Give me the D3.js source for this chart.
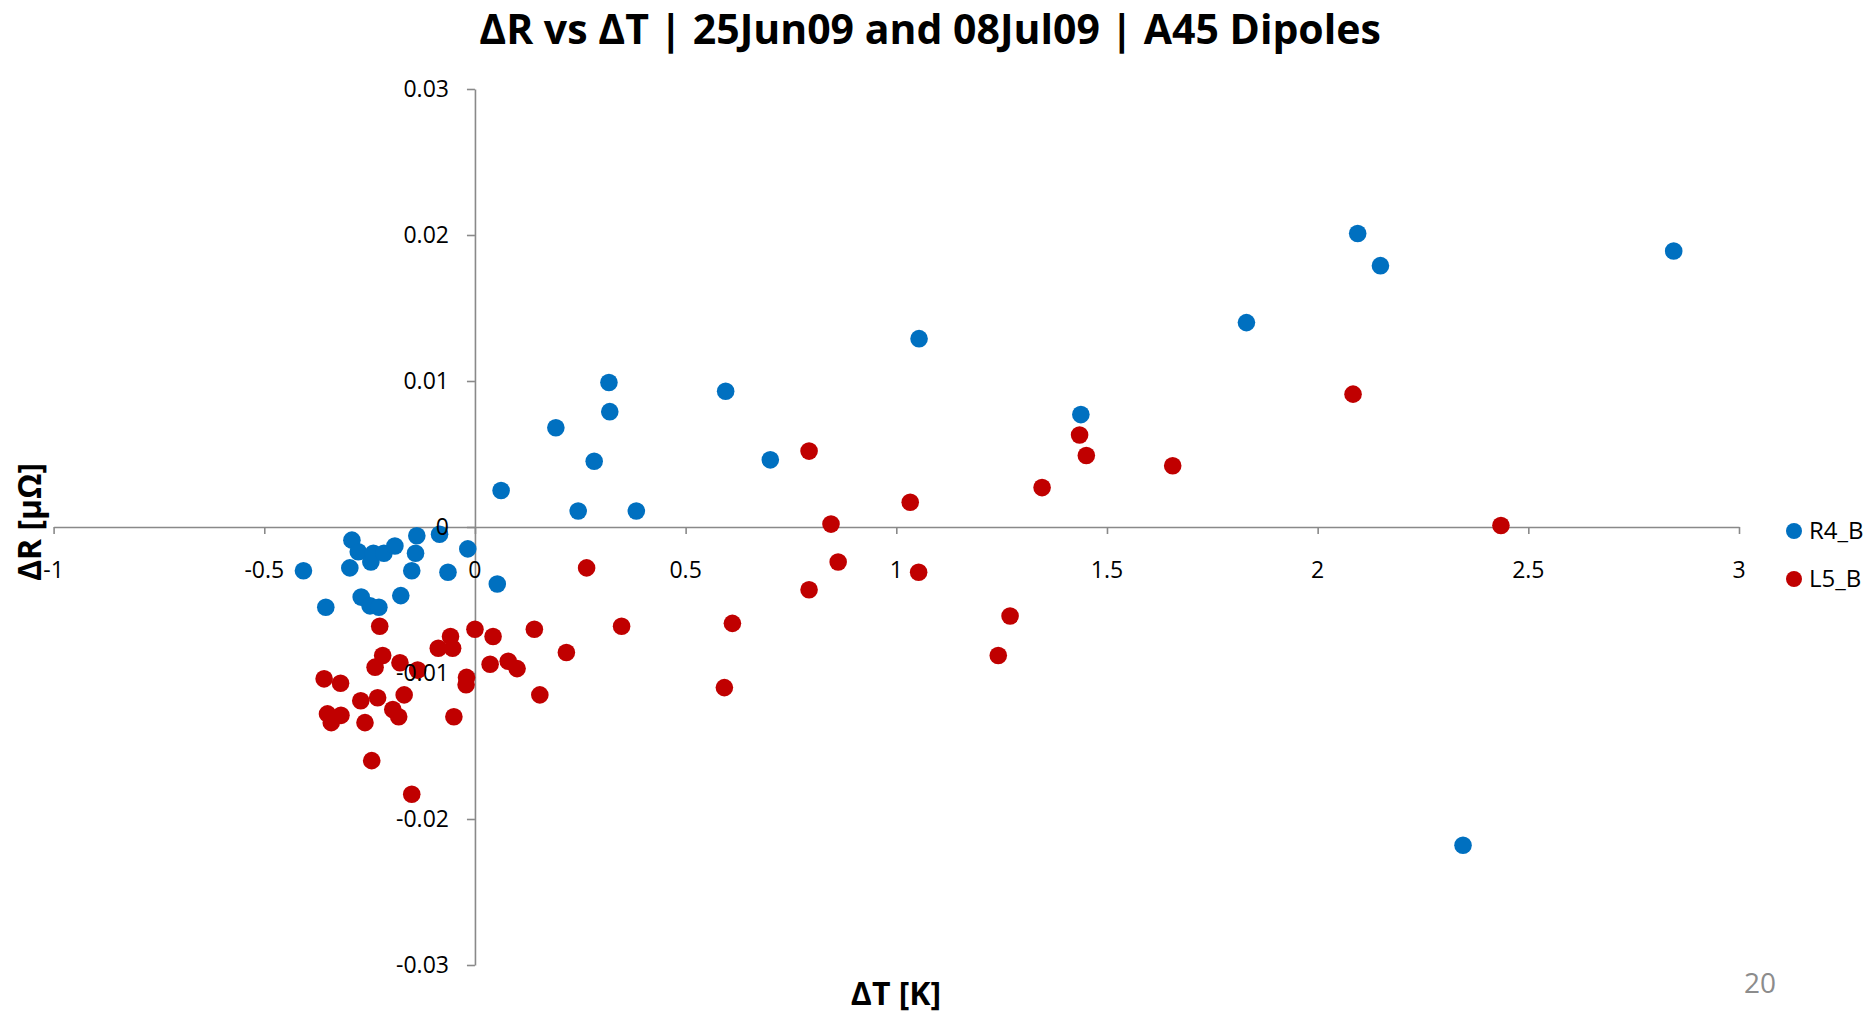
<!DOCTYPE html>
<html lang="en">

<head>
    <meta charset="UTF-8">
    <title>dR vs dT</title>
    <style>
        body { margin: 0; background: #fff; }
        svg { display: block; font-family: "Open Sans", sans-serif; }
    </style>
</head>

<body>
    <svg></svg>
    <script src="https://d3js.org/d3.v7.min.js"></script>

    <script>
        // R4_B series
        var r4x = [-0.407, -0.354, -0.297, -0.292, -0.277, -0.270, -0.249, -0.247, -0.241, -0.228,
            -0.216, -0.190, -0.176, -0.150, -0.141, -0.138, -0.084, -0.064, -0.017, 0.053,
            0.062, 0.192, 0.245, 0.283, 0.318, 0.320, 0.383, 0.595, 0.701, 1.054,
            1.438, 1.831, 2.095, 2.149, 2.345, 2.845];
        var r4y = [-0.0030, -0.0055, -0.0028, -0.0009, -0.0017, -0.0048, -0.0054, -0.0024, -0.0018, -0.0055,
            -0.0018, -0.0013, -0.0047, -0.0030, -0.0018, -0.0006, -0.0005, -0.0031, -0.0015, -0.0039,
            0.0025, 0.0068, 0.0011, 0.0045, 0.0099, 0.0079, 0.0011, 0.0093, 0.0046, 0.0129,
            0.0077, 0.0140, 0.0201, 0.0179, -0.0218, 0.0189];

        // L5_B series
        var l5x = [-0.358, -0.350, -0.341, -0.319, -0.318, -0.271, -0.261, -0.245, -0.237, -0.231,
            -0.226, -0.219, -0.195, -0.181, -0.178, -0.168, -0.150, -0.136, -0.087, -0.058,
            -0.053, -0.050, -0.021, -0.020, 0.000, 0.036, 0.043, 0.079, 0.100, 0.141,
            0.154, 0.217, 0.265, 0.348, 0.592, 0.611, 0.793, 0.793, 0.845, 0.862,
            1.033, 1.053, 1.242, 1.270, 1.346, 1.435, 1.451, 1.656, 2.084, 2.435];
        var l5y = [-0.0104, -0.0128, -0.0134, -0.0107, -0.0129, -0.0119, -0.0134, -0.0160, -0.0096, -0.0117,
            -0.0068, -0.0088, -0.0125, -0.0130, -0.0093, -0.0115, -0.0183, -0.0098, -0.0083, -0.0075,
            -0.0083, -0.0130, -0.0108, -0.0103, -0.0070, -0.0094, -0.0075, -0.0092, -0.0097, -0.0070,
            -0.0115, -0.0086, -0.0028, -0.0068, -0.0110, -0.0066, 0.0052, -0.0043, 0.0002, -0.0024,
            0.0017, -0.0031, -0.0088, -0.0061, 0.0027, 0.0063, 0.0049, 0.0042, 0.0091, 0.0001];

        var xTicks = [-1, -0.5, 0, 0.5, 1, 1.5, 2, 2.5, 3];
        var yTicks = [-0.03, -0.02, -0.01, 0, 0.01, 0.02, 0.03];
        var seriesNames = ['R4_B', 'L5_B'];
        var colors = ['#0070C0', '#C00000'];

        var svgWidth = 1866,
            svgHeight = 1013;
        var svg = d3.select('svg')
            .attr('width', svgWidth)
            .attr('height', svgHeight);

        var x = d3.scaleLinear().domain([-1, 3]).range([53.6, 1739]);
        var y = d3.scaleLinear().domain([-0.03, 0.03]).range([965, 89]);

        var series = [
            { name: seriesNames[0], color: colors[0], pts: r4x.map((d, i) => [d, r4y[i]]) },
            { name: seriesNames[1], color: colors[1], pts: l5x.map((d, i) => [d, l5y[i]]) }
        ];

        // axis lines + ticks first, markers, then tick labels on top
        var xAxis = svg.append('g')
            .attr('transform', 'translate(0,' + y(0) + ')')
            .call(d3.axisBottom(x).tickValues(xTicks).tickSize(7).tickSizeOuter(0).tickFormat(d => String(d)));
        var yAxis = svg.append('g')
            .attr('transform', 'translate(' + x(0) + ',0)')
            .call(d3.axisLeft(y).tickValues(yTicks).tickSize(8).tickSizeOuter(0).tickFormat(d => String(d)));

        [xAxis, yAxis].forEach(g => {
            g.select('.domain').attr('stroke', '#898989').attr('stroke-width', 1.6);
            g.selectAll('.tick line').attr('stroke', '#898989').attr('stroke-width', 1.6);
            g.selectAll('.tick text').remove();
        });

        series.forEach(s => {
            svg.append('g').selectAll('circle')
                .data(s.pts)
                .enter()
                .append('circle')
                .attr('cx', d => x(d[0]))
                .attr('cy', d => y(d[1]))
                .attr('r', 8.8)
                .attr('fill', s.color);
        });

        var labels = svg.append('g').attr('font-size', 23).attr('fill', '#000');
        labels.selectAll('.xl').data(xTicks).enter().append('text')
            .attr('x', d => x(d))
            .attr('y', y(0) + 43)
            .attr('dy', '0.35em')
            .attr('text-anchor', 'middle')
            .text(d => String(d));
        labels.selectAll('.yl').data(yTicks).enter().append('text')
            .attr('x', x(0) - 26)
            .attr('y', d => y(d))
            .attr('dy', '0.35em')
            .attr('text-anchor', 'end')
            .text(d => String(d));

        // titles
        svg.append('text')
            .attr('x', 930).attr('y', 44)
            .attr('text-anchor', 'middle')
            .attr('font-size', 41).attr('font-weight', 'bold')
            .text('ΔR vs ΔT | 25Jun09 and 08Jul09 | A45 Dipoles');
        svg.append('text')
            .attr('x', 896).attr('y', 994)
            .attr('dy', '0.35em')
            .attr('text-anchor', 'middle')
            .attr('font-size', 32).attr('font-weight', 'bold')
            .text('ΔT [K]');
        svg.append('text')
            .attr('transform', 'translate(30,522) rotate(-90)')
            .attr('dy', '0.35em')
            .attr('text-anchor', 'middle')
            .attr('font-size', 32).attr('font-weight', 'bold')
            .text('ΔR [μΩ]');

        // legend
        var legend = svg.append('g').selectAll('g')
            .data(series)
            .enter()
            .append('g')
            .attr('transform', (d, i) => 'translate(1794,' + (531 + i * 48) + ')');
        legend.append('circle').attr('r', 8).attr('fill', d => d.color);
        legend.append('text')
            .attr('x', 15).attr('dy', '0.35em')
            .attr('font-size', 24)
            .text(d => d.name);

        // slide number
        svg.append('text')
            .attr('x', 1760).attr('y', 993)
            .attr('text-anchor', 'middle')
            .attr('font-size', 28).attr('fill', '#8c8c8c')
            .text('20');
    </script>

</body>

</html>
